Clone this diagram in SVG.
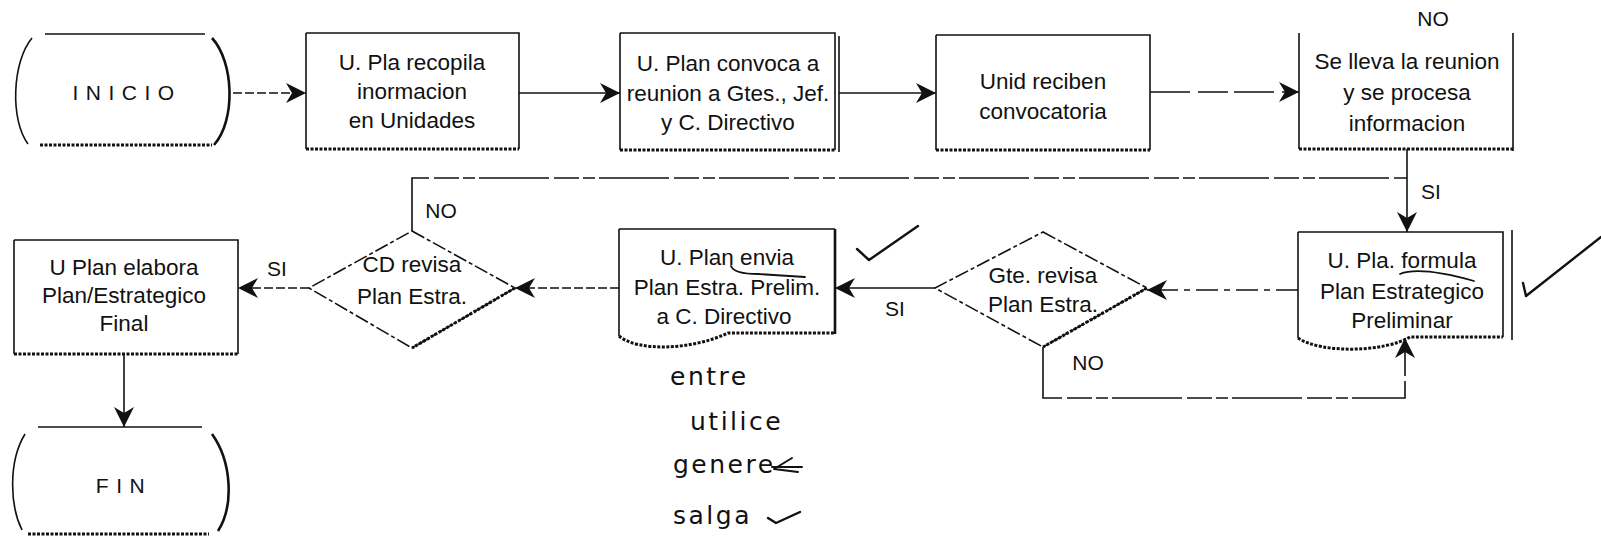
<svg xmlns="http://www.w3.org/2000/svg" width="1601" height="545" viewBox="0 0 1601 545">
  <style>
    .ln{fill:none;stroke:#111;stroke-width:1.6}
    .heavy{fill:none;stroke:#111;stroke-width:3;stroke-dasharray:3 1.5}
    .thick{fill:none;stroke:#111;stroke-width:2.6}
    .dia{fill:none;stroke:#111;stroke-width:1.6;stroke-dasharray:14 3 4 3}
    .con{fill:none;stroke:#111;stroke-width:1.6}
    .d1{stroke-dasharray:9 3}
    .d2{stroke-dasharray:40 8 30 6}
    .d3{stroke-dasharray:22 6 6 6}
    .d4{stroke-dasharray:70 5 25 4 12 4}
    .arr{marker-end:url(#ah)}
    .t{font-family:"Liberation Sans",Arial,sans-serif;font-size:22.5px;fill:#111;text-anchor:middle}
    .term{font-size:21px;letter-spacing:7.5px}
    .lbl{font-family:"Liberation Sans",Arial,sans-serif;font-size:21px;fill:#111;text-anchor:middle}
    .hand{font-family:"DejaVu Sans",sans-serif;font-size:25px;fill:#111;letter-spacing:2.5px}
    .ink{fill:none;stroke:#111;stroke-width:2.4;stroke-linecap:round;stroke-linejoin:round}
  </style>
  <defs>
    <marker id="ah" markerUnits="userSpaceOnUse" markerWidth="22" markerHeight="22" refX="20" refY="10" orient="auto">
      <path d="M0,0 L20,10 L0,20 L6,10 Z" fill="#111"/>
    </marker>
  </defs>

  <!-- connectors -->
  <g id="connectors">
    <path class="con d1 arr" d="M233,93 H306"/>
    <path class="con arr" d="M519,93 H620"/>
    <path class="con arr" d="M839,93 H936"/>
    <path class="con d2 arr" d="M1150,92 H1299"/>
    <path class="con arr" d="M1407,149 V232"/>
    <path class="con d4" d="M412,231 V178 H1407"/>
    <path class="con d3 arr" d="M1298,290 H1147"/>
    <path class="con arr" d="M935,288 H835"/>
    <path class="con d1 arr" d="M619,288 H515"/>
    <path class="con d1 arr" d="M309,288 H238"/>
    <path class="con arr" d="M124,354 V427"/>
    <path class="con d4 arr" d="M1043,347 V398 H1405 V338"/>
    <text class="lbl" x="1433" y="26">NO</text>
    <text class="lbl" x="1431" y="199">SI</text>
    <text class="lbl" x="441" y="218">NO</text>
    <text class="lbl" x="277" y="276">SI</text>
    <text class="lbl" x="895" y="316">SI</text>
    <text class="lbl" x="1088" y="370">NO</text>
  </g>

  <!-- start terminal -->
  <g id="inicio">
    <path class="ln" d="M45,34 H205"/>
    <path class="heavy" d="M40,145 H212"/>
    <path class="ln" d="M32,38 C12,62 10,120 28,144"/>
    <path class="thick" d="M212,38 C234,62 236,120 214,145"/>
    <text class="t term" x="127" y="100">INICIO</text>
  </g>

  <g id="recopila">
    <path class="ln" d="M306,33 H519 V149 M306,33 V149"/>
    <path class="heavy" d="M306,149 H519"/>
    <text class="t" x="412" y="70">U. Pla recopila</text>
    <text class="t" x="412" y="99">inormacion</text>
    <text class="t" x="412" y="128">en Unidades</text>
  </g>

  <g id="convoca">
    <path class="ln" d="M620,33 H835 V150 M620,33 V150 M839,36 V152"/>
    <path class="heavy" d="M620,150 H835"/>
    <text class="t" x="728" y="71">U. Plan convoca a</text>
    <text class="t" x="728" y="101">reunion a Gtes., Jef.</text>
    <text class="t" x="728" y="130">y C. Directivo</text>
  </g>

  <g id="reciben">
    <path class="ln" d="M936,35 H1150 V150 M936,35 V150"/>
    <path class="heavy" d="M936,150 H1150"/>
    <text class="t" x="1043" y="89">Unid reciben</text>
    <text class="t" x="1043" y="119">convocatoria</text>
  </g>

  <g id="reunion">
    <path class="ln" d="M1299,33 V149 M1513,33 V151"/>
    <path class="heavy" d="M1299,149 H1513"/>
    <text class="t" x="1407" y="69">Se lleva la reunion</text>
    <text class="t" x="1407" y="100">y se procesa</text>
    <text class="t" x="1407" y="131">informacion</text>
  </g>

  <g id="formula">
    <path class="ln" d="M1298,232 H1503 V337 M1298,232 V338 M1512,230 V340"/>
    <path class="heavy" d="M1298,338 C1322,354 1385,352 1410,337 H1503"/>
    <text class="t" x="1402" y="268">U. Pla. formula</text>
    <text class="t" x="1402" y="299">Plan Estrategico</text>
    <text class="t" x="1402" y="328">Preliminar</text>
    <path class="ink" style="stroke-width:1.8" d="M1400,274 Q1420,266 1474,281"/>
  </g>

  <g id="gte-revisa">
    <path class="dia" d="M1043,232 L1147,288 L1043,347 L935,288 Z"/>
    <path class="heavy" d="M1147,288 L1043,347"/>
    <text class="t" x="1043" y="283">Gte. revisa</text>
    <text class="t" x="1043" y="312">Plan Estra.</text>
  </g>

  <g id="envia">
    <path class="ln" d="M619,229 H835 M619,229 V336"/>
    <path class="thick" d="M835,229 V334"/>
    <path class="heavy" d="M619,336 C638,352 692,350 728,333 H835"/>
    <text class="t" x="727" y="265">U. Plan envia</text>
    <text class="t" x="727" y="295">Plan Estra. Prelim.</text>
    <text class="t" x="724" y="324">a C. Directivo</text>
    <path class="ink" style="stroke-width:1.8" d="M731,266 Q734,274 758,274 L805,277"/>
  </g>

  <g id="cd-revisa">
    <path class="dia" d="M412,231 L515,288 L412,348 L309,288 Z"/>
    <path class="heavy" d="M515,288 L412,348"/>
    <text class="t" x="412" y="272">CD revisa</text>
    <text class="t" x="412" y="304">Plan Estra.</text>
  </g>

  <g id="elabora">
    <path class="ln" d="M14,240 H238 V354 M14,240 V354"/>
    <path class="heavy" d="M14,354 H238"/>
    <text class="t" x="124" y="275">U Plan elabora</text>
    <text class="t" x="124" y="303">Plan/Estrategico</text>
    <text class="t" x="124" y="331">Final</text>
  </g>

  <!-- end terminal -->
  <g id="fin">
    <path class="ln" d="M38,427 H202"/>
    <path class="heavy" d="M28,534 H209"/>
    <path class="ln" d="M25,434 C8,462 10,506 22,530"/>
    <path class="thick" d="M212,434 C232,462 234,506 218,531"/>
    <text class="t term" x="124" y="493">FIN</text>
  </g>

  <!-- handwritten notes -->
  <g id="notes">
    <path class="ink" d="M857,249 L869,260 L918,226"/>
    <path class="ink" d="M1523,283 L1526,296 L1601,237"/>
    <text class="hand" x="670" y="385">entre</text>
    <text class="hand" x="690" y="430">utilice</text>
    <text class="hand" x="673" y="473">genere</text>
    <path class="ink" style="stroke-width:2" d="M772,467 H802 M792,458 L774,469 L798,472"/>
    <text class="hand" x="673" y="524">salga</text>
    <path class="ink" d="M768,518 L776,523 L800,512"/>
  </g>
</svg>
